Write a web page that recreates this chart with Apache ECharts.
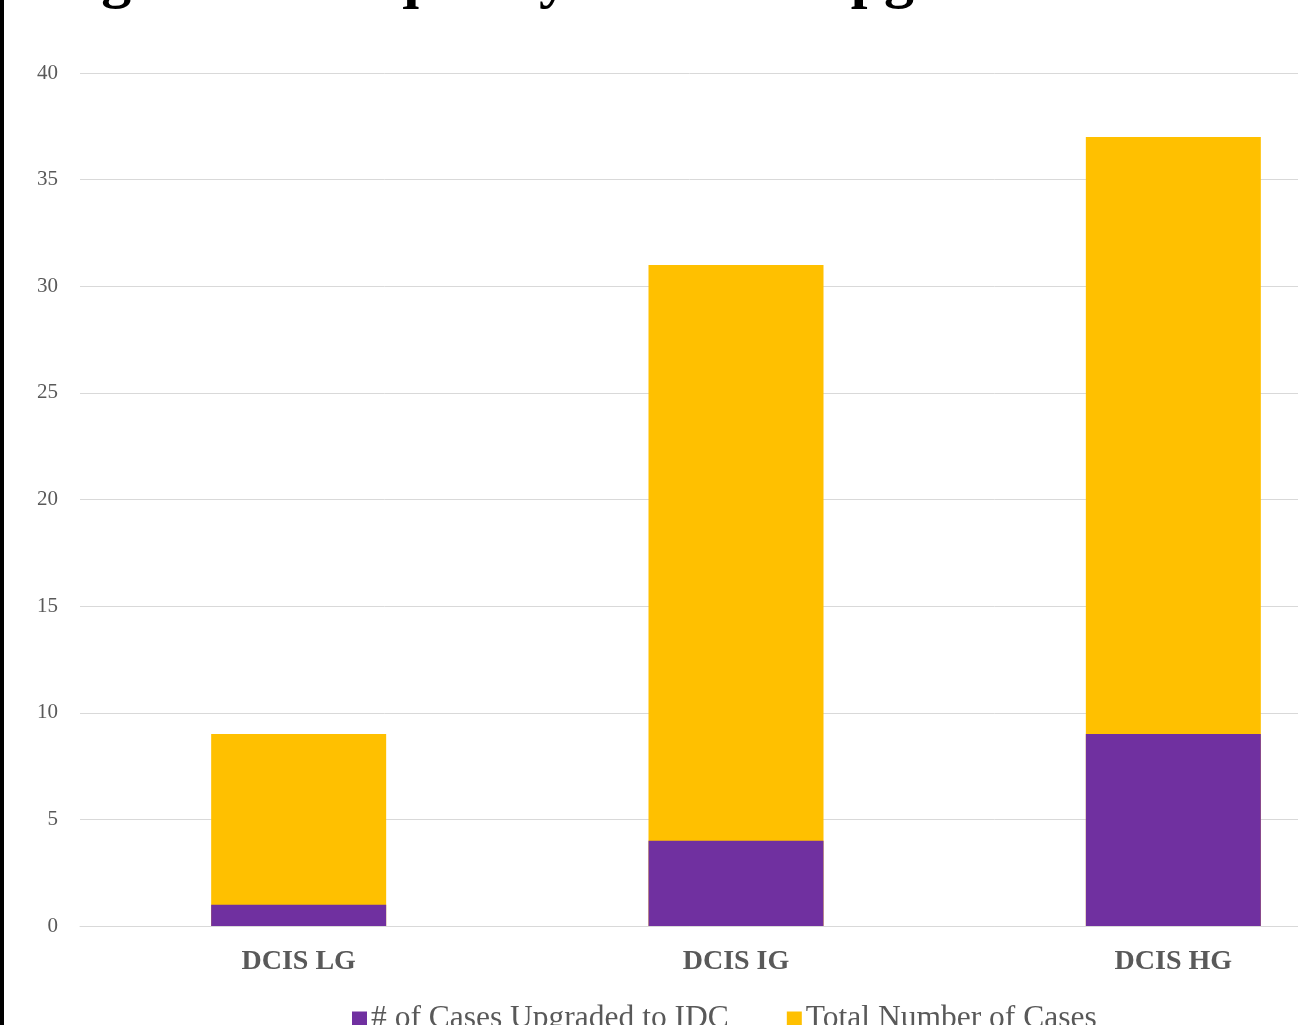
<!DOCTYPE html>
<html>
<head>
<meta charset="utf-8">
<script src="https://cdn.jsdelivr.net/npm/echarts@6/dist/echarts.min.js"></script>
<style>
  html, body { margin: 0; padding: 0; background: #fff; }
  #chart { width: 1298px; height: 1025px; }
</style>
</head>
<body>
<div id="chart"></div>
<script>
// DCIS grade categories and case counts
const categories = ['DCIS LG', 'DCIS IG', 'DCIS HG'];
const upgradedCases = [1, 4, 9];     // # of cases upgraded to IDC
const totalCases = [9, 31, 37];      // total number of cases
const yTicks = { min: 0, max: 40, step: 5 };

const serif = '"Liberation Serif", "Times New Roman", serif';
const gray = '#595959';

const chart = echarts.init(document.getElementById('chart'));
chart.setOption({
  animation: false,
  backgroundColor: '#ffffff',
  graphic: [
    { type: 'rect', left: 0, top: 0, z: 100, shape: { width: 4, height: 1025 }, style: { fill: '#000' } },
    {
      type: 'text', left: 48, top: -50,
      style: { text: 'Figure 1: Frequency of DCIS Upgrade', font: 'bold 60px ' + serif, fill: '#000' }
    }
  ],
  // plot area runs past the right edge of the page
  grid: { left: 80, top: 73, width: 1312, bottom: 99, containLabel: false, outerBoundsMode: 'none' },
  legend: {
    data: ['# of Cases Upgraded to IDC', 'Total Number of Cases'],
    left: 347, top: 998,
    icon: 'rect', itemWidth: 15, itemHeight: 15, itemGap: 58,
    textStyle: { fontFamily: serif, fontSize: 31.5, color: gray, padding: [0, 0, 0, -1] }
  },
  xAxis: {
    type: 'category',
    data: categories,
    axisLine: { lineStyle: { color: '#d9d9d9', width: 1 } },
    axisTick: { show: false },
    axisLabel: { fontFamily: serif, fontSize: 28, fontWeight: 'bold', color: gray, margin: 22 }
  },
  yAxis: {
    type: 'value',
    min: yTicks.min, max: yTicks.max, interval: yTicks.step,
    axisLine: { show: false },
    axisTick: { show: false },
    splitLine: { lineStyle: { color: '#d9d9d9', width: 1 } },
    axisLabel: { fontFamily: serif, fontSize: 21, color: gray, margin: 22 }
  },
  series: [
    {
      name: '# of Cases Upgraded to IDC',
      type: 'bar', data: upgradedCases, barWidth: 175, barGap: '-100%', z: 3,
      itemStyle: { color: '#7030A0' }
    },
    {
      name: 'Total Number of Cases',
      type: 'bar', data: totalCases, barWidth: 175, barGap: '-100%', z: 2,
      itemStyle: { color: '#FFC000' }
    }
  ]
});
</script>
</body>
</html>
